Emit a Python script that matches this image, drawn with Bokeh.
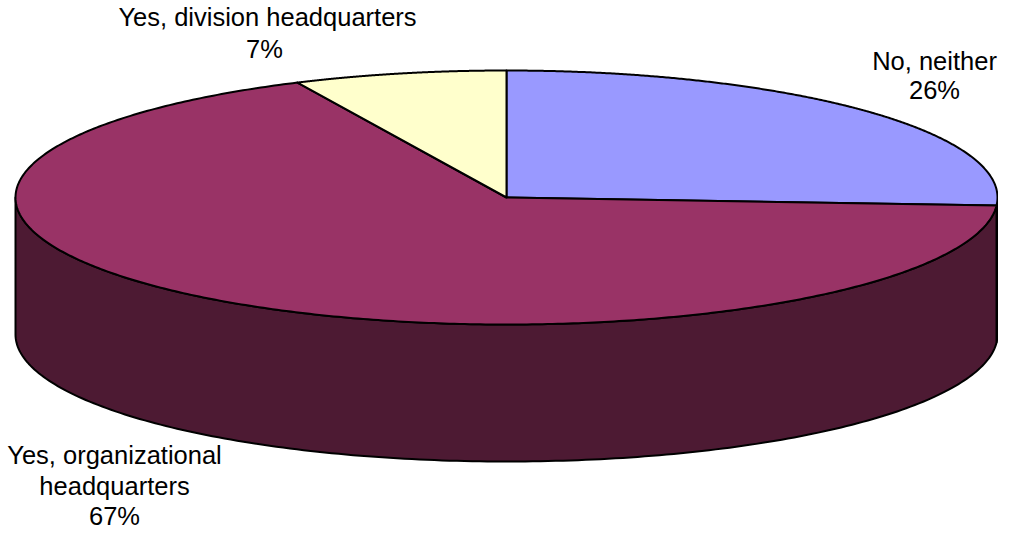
import numpy as np
from bokeh.plotting import figure
from bokeh.models import Range1d
from bokeh.embed import file_html
from bokeh.resources import INLINE
from bokeh.core.properties import value

# ---- data ----
categories = ["No, neither", "Yes, organizational headquarters", "Yes, division headquarters"]
shares = [26, 67, 7]
top_colors = ["#9999FF", "#993366", "#FFFFCC"]
side_colors = ["#4D4D80", "#4D1A33", "#808066"]
label_lines = [["No, neither", "26%"],
               ["Yes, organizational", "headquarters", "67%"],
               ["Yes, division headquarters", "7%"]]

# ---- layout (pixel-like data space) ----
CX, CY, RX, RY, DEPTH = 506.0, 197.0, 491.0, 127.0, 137.0
TEXT_SHIFT = -10
label_pos = [[(934, 70), (934, 99)],
             [(114, 464), (114, 495), (114, 525)],
             [(267, 26), (264, 58)]]

p = figure(width=998, height=531, x_range=Range1d(0, 998), y_range=Range1d(531, 0),
           x_axis_type=None, y_axis_type=None, toolbar_location=None,
           output_backend="svg", min_border=0, outline_line_color=None)
p.grid.visible = False


def ell(t_deg, dy=0.0):
    t = np.radians(t_deg)
    return CX + RX * np.cos(t), CY - RY * np.sin(t) + dy


total = float(sum(shares))
starts, ends = [], []
t0 = 90.0
for s in shares:
    t1 = t0 - s / total * 360.0
    starts.append(t0)
    ends.append(t1)
    t0 = t1

# side walls (front half only)
for i in range(len(shares)):
    hi, lo = starts[i], ends[i]
    for f_lo, f_hi in [(-180, 0), (-540, -360), (180, 360)]:
        a, b = max(lo, f_lo), min(hi, f_hi)
        if b - a > 1e-6:
            ts = np.linspace(a, b, 200)
            xt, yt = ell(ts)
            xb, yb = ell(ts[::-1], DEPTH)
            p.patch(np.concatenate([xt, xb]), np.concatenate([yt, yb]),
                    fill_color=side_colors[i], line_color="black", line_width=2,
                    line_join="round")

# top wedges
for i in range(len(shares)):
    ts = np.linspace(starts[i], ends[i], 400)
    xa, ya = ell(ts)
    xs = np.concatenate([[CX], xa])
    ys = np.concatenate([[CY], ya])
    p.patch(xs, ys, fill_color=top_colors[i], line_color="black", line_width=2,
            line_join="round")

# labels
for lines, poss in zip(label_lines, label_pos):
    for txt, (x, y) in zip(lines, poss):
        p.text(x=[x], y=[y + TEXT_SHIFT], text=[txt], text_align="center",
               text_baseline="alphabetic",
               text_font=value("Liberation Sans"), text_font_size=value("25.5px"),
               text_color="black")

open("out.html", "w").write(file_html(p, INLINE))
